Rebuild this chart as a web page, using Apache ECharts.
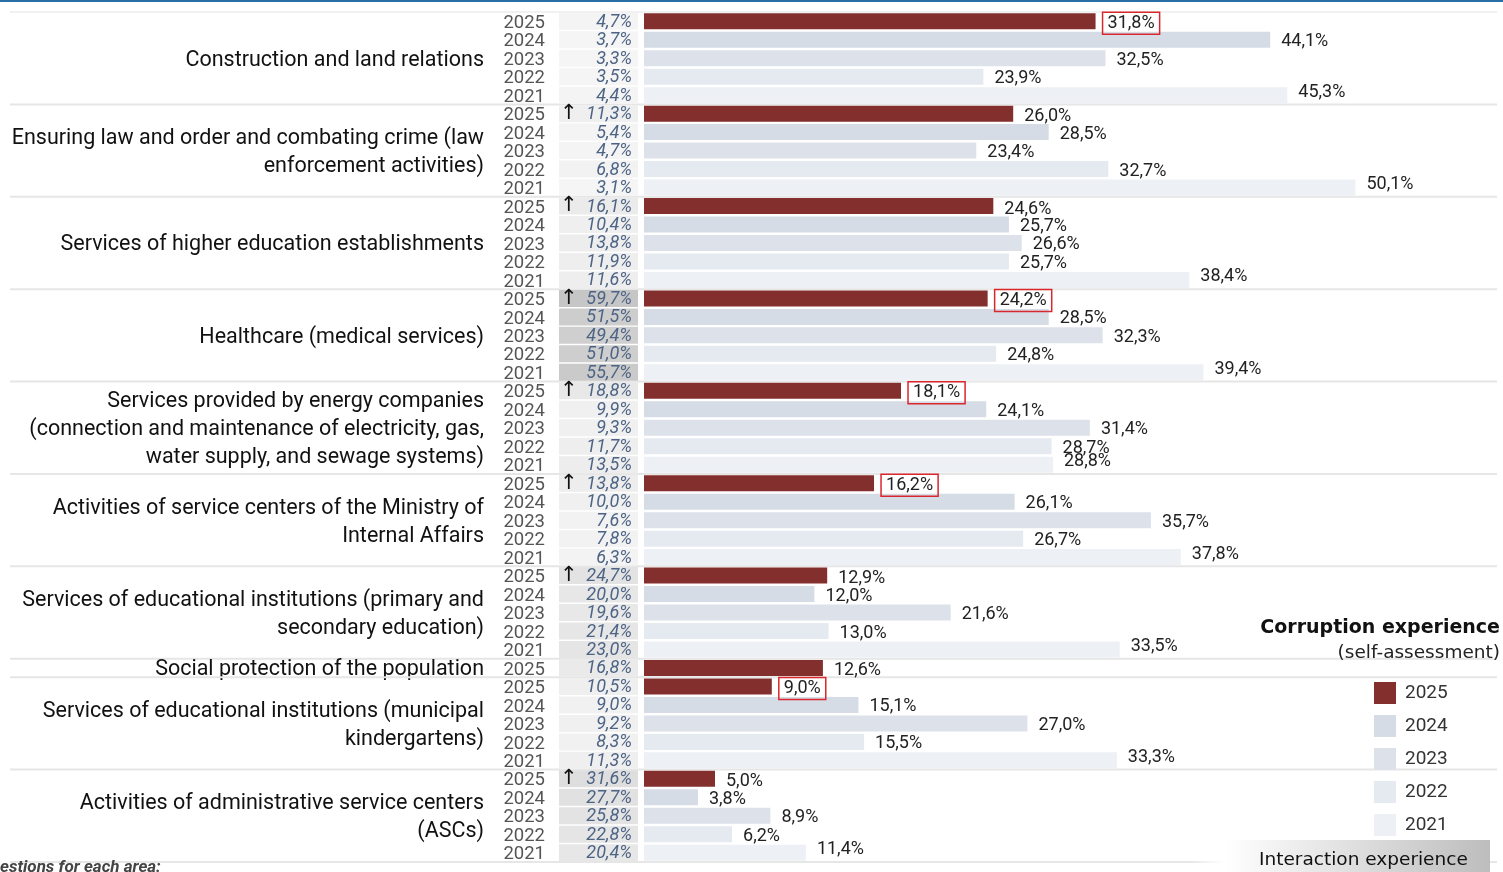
<!DOCTYPE html>
<html>
<head>
<meta charset="utf-8">
<script src="https://cdn.jsdelivr.net/npm/echarts@6/dist/echarts.min.js"></script>
<style>
html,body{margin:0;padding:0;background:#fff;}
#chart{width:1503px;height:872px;}
</style>
</head>
<body>
<div id="chart"></div>
<script>
// ---- data ----
const categories = [
  "Construction and land relations",
  "Ensuring law and order and combating crime (law\nenforcement activities)",
  "Services of higher education establishments",
  "Healthcare (medical services)",
  "Services provided by energy companies\n(connection and maintenance of electricity, gas,\nwater supply, and sewage systems)",
  "Activities of service centers of the Ministry of\nInternal Affairs",
  "Services of educational institutions (primary and\nsecondary education)",
  "Social protection of the population",
  "Services of educational institutions (municipal\nkindergartens)",
  "Activities of administrative service centers\n(ASCs)"
];
const yearLabels = [2025, 2024, 2023, 2022, 2021];
const groupYears = [
  [2025, 2024, 2023, 2022, 2021],
  [2025, 2024, 2023, 2022, 2021],
  [2025, 2024, 2023, 2022, 2021],
  [2025, 2024, 2023, 2022, 2021],
  [2025, 2024, 2023, 2022, 2021],
  [2025, 2024, 2023, 2022, 2021],
  [2025, 2024, 2023, 2022, 2021],
  [2025],
  [2025, 2024, 2023, 2022, 2021],
  [2025, 2024, 2023, 2022, 2021]
];
// corruption experience (self-assessment), %
const corruption = [
  [31.8, 44.1, 32.5, 23.9, 45.3],
  [26.0, 28.5, 23.4, 32.7, 50.1],
  [24.6, 25.7, 26.6, 25.7, 38.4],
  [24.2, 28.5, 32.3, 24.8, 39.4],
  [18.1, 24.1, 31.4, 28.7, 28.8],
  [16.2, 26.1, 35.7, 26.7, 37.8],
  [12.9, 12.0, 21.6, 13.0, 33.5],
  [12.6],
  [9.0, 15.1, 27.0, 15.5, 33.3],
  [5.0, 3.8, 8.9, 6.2, 11.4]
];
// interaction experience, %
const interaction = [
  [4.7, 3.7, 3.3, 3.5, 4.4],
  [11.3, 5.4, 4.7, 6.8, 3.1],
  [16.1, 10.4, 13.8, 11.9, 11.6],
  [59.7, 51.5, 49.4, 51.0, 55.7],
  [18.8, 9.9, 9.3, 11.7, 13.5],
  [13.8, 10.0, 7.6, 7.8, 6.3],
  [24.7, 20.0, 19.6, 21.4, 23.0],
  [16.8],
  [10.5, 9.0, 9.2, 8.3, 11.3],
  [31.6, 27.7, 25.8, 22.8, 20.4]
];
// 2025 interaction marked with an up arrow
const rising = [false, true, true, true, true, true, true, false, false, true];
// 2025 corruption value outlined with a red box
const boxed = [true, false, false, true, true, true, false, false, true, false];

const yearColors = {2025: '#832f2d', 2024: '#d6dce6', 2023: '#dde2ea', 2022: '#e5e9f0', 2021: '#edf0f5'};

// ---- build rows ----
const rows = [];
const groups = [];
categories.forEach((name, g) => {
  const start = rows.length;
  groupYears[g].forEach((y, j) => {
    rows.push({id: g + '_' + y, g, y, j, c: corruption[g][j], i: interaction[g][j]});
  });
  groups.push([0, start, rows.length - 1, g]);
});
const rowIds = rows.map(r => r.id);
const fmt = v => v.toFixed(1).replace('.', ',') + '%';
const cellColor = v => { const c = Math.round(248 - v * 0.83); return 'rgb(' + c + ',' + c + ',' + c + ')'; };

const FONT = 'Roboto, "Noto Sans", sans-serif';

const barSeries = yearLabels.map(Y => ({
  name: String(Y),
  type: 'bar',
  xAxisIndex: 0, yAxisIndex: 0,
  barWidth: 16,
  barGap: '-100%',
  itemStyle: {color: yearColors[Y]},
  label: {
    show: true, position: 'right', distance: 11, offset: [0, 2],
    fontFamily: FONT, fontSize: 18, color: '#222',
    formatter: p => fmt(p.value)
  },
  data: rows.map(r => {
    if (r.y !== Y) return '-';
    const item = {value: r.c};
    if (Y === 2025 && boxed[r.g]) {
      item.label = {borderColor: '#d9272e', borderWidth: 1.5, padding: [3, 5, 1, 5], distance: 7, offset: [0, 2]};
    } else if (Y === 2021) {
      item.label = {offset: [0, -3]};
    } else if (Y === 2025) {
      item.label = {offset: [0, 3]};
    }
    return item;
  })
}));

const option = {
  animation: false,
  backgroundColor: '#fff',
  grid: [
    {left: 644, top: 12, width: 852, height: 850},
    {left: 559, top: 12, width: 79, height: 850}
  ],
  xAxis: [
    {type: 'value', gridIndex: 0, min: 0, max: 60, show: false},
    {type: 'value', gridIndex: 1, min: 0, max: 1, show: false}
  ],
  yAxis: [
    {type: 'category', gridIndex: 0, data: rowIds, inverse: true, show: false},
    {type: 'category', gridIndex: 1, data: rowIds, inverse: true,
     axisLine: {show: false}, axisTick: {show: false},
     axisLabel: {interval: 0, margin: 14,
       rich: {y: {fontFamily: FONT, fontSize: 18.5, color: '#555', padding: [4, 0, 0, 0]}},
       formatter: v => '{y|' + v.split('_')[1] + '}'}}
  ],
  legend: {
    orient: 'vertical', left: 1369, top: 677,
    itemWidth: 22, itemHeight: 22, itemGap: 11,
    textStyle: {fontFamily: FONT, fontSize: 19, color: '#333', padding: [0, 0, 0, 4]},
    icon: 'rect',
    data: yearLabels.map(String)
  },
  graphic: [
    {type: 'rect', left: 0, top: 0, shape: {width: 1503, height: 2}, style: {fill: '#2a6ea6'}},
    {type: 'text', right: 3, top: 619, z: 10, style: {text: 'Corruption experience', font: 'bold 19px "DejaVu Sans"', fill: '#111'}},
    {type: 'text', right: 3, top: 644, z: 10, style: {text: '(self-assessment)', font: '18.5px "DejaVu Sans"', fill: '#222'}},
    {type: 'rect', left: 1188, top: 840, z: 10, shape: {width: 302, height: 32},
     style: {fill: new echarts.graphic.LinearGradient(0, 0, 1, 0, [
       {offset: 0, color: 'rgba(255,255,255,0)'}, {offset: 0.12, color: 'rgba(255,255,255,1)'}, {offset: 1, color: '#bdbdbd'}])}},
    {type: 'text', left: 1259, top: 851, z: 11, style: {text: 'Interaction experience', font: '18.5px "DejaVu Sans"', fill: '#111'}},
    {type: 'text', left: 0, top: 859, z: 10, style: {text: 'estions for each area:', font: 'italic bold 17px Roboto', fill: '#444'}}
  ],
  series: [
    {
      type: 'custom', xAxisIndex: 1, yAxisIndex: 1, clip: false, z: 1, silent: true,
      encode: {x: 0, y: 1},
      data: groups,
      renderItem: (params, api) => {
        const s = api.value(1), e = api.value(2), g = api.value(3);
        const band = api.size([0, 1])[1];
        const top = api.coord([0, s])[1] - band / 2;
        const bottom = api.coord([0, e])[1] + band / 2;
        const children = [
          {type: 'text', style: {text: categories[g], x: 484, y: (top + bottom) / 2 + 2,
            align: 'right', verticalAlign: 'middle', font: '21.5px Roboto', lineHeight: 28, fill: '#111'}},
          {type: 'line', shape: {x1: 10, y1: bottom, x2: 1497, y2: bottom}, style: {stroke: '#e6e6e6', lineWidth: 2}}
        ];
        if (g === 0) children.push({type: 'line', shape: {x1: 10, y1: top, x2: 1497, y2: top}, style: {stroke: '#ececec', lineWidth: 1.5}});
        return {type: 'group', children};
      }
    },
    {
      type: 'bar', xAxisIndex: 1, yAxisIndex: 1, barWidth: 17, silent: true,
      data: rows.map(r => ({value: 1, itemStyle: {color: cellColor(r.i)}})),
      label: {show: true, position: 'insideRight', distance: 6, offset: [0, 1],
        fontFamily: FONT, fontStyle: 'italic', fontSize: 18, color: '#4d6485',
        formatter: p => fmt(rows[p.dataIndex].i)}
    },
    {
      type: 'bar', xAxisIndex: 1, yAxisIndex: 1, barWidth: 17, barGap: '-100%', silent: true,
      itemStyle: {color: 'rgba(0,0,0,0)'},
      data: rows.map(r => 1),
      label: {show: true, position: 'insideLeft', distance: 1,
        fontFamily: '"DejaVu Sans"', fontSize: 21, color: '#111',
        formatter: p => { const r = rows[p.dataIndex]; return (r.y === 2025 && rising[r.g]) ? '↑' : ''; }}
    }
  ].concat(barSeries)
};

const chart = echarts.init(document.getElementById('chart'));
chart.setOption(option);
</script>
</body>
</html>
